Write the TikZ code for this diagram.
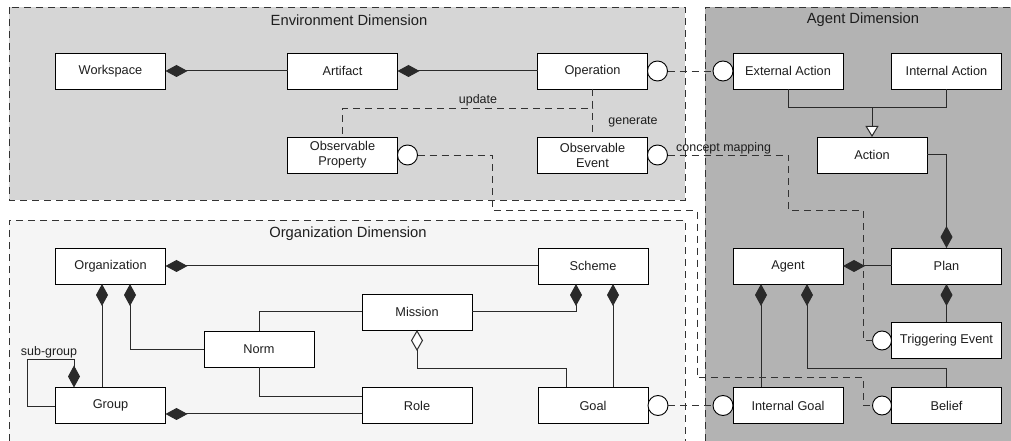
\documentclass[tikz,border=0pt]{standalone}
\usepackage{fontspec}
\setmainfont{Liberation Sans}
\usetikzlibrary{arrows.meta,calc}
\definecolor{envbg}{HTML}{D6D6D6}
\definecolor{agtbg}{HTML}{B3B3B3}
\definecolor{orgbg}{HTML}{F5F5F5}
\definecolor{ink}{HTML}{1E1E1E}
\definecolor{wirec}{HTML}{2A2A2A}
\definecolor{dashc}{HTML}{333333}

\begin{document}
\begin{tikzpicture}[x=1bp,y=-1bp,
  box/.style={draw=black,line width=0.9bp,fill=white,minimum width=110bp,minimum height=36bp,
    inner sep=0pt,outer sep=0pt,align=center,text=ink,font=\fontsize{12.8}{15}\selectfont},
  iface/.style={circle,draw=black,line width=0.9bp,fill=white,minimum size=20bp,inner sep=0pt,outer sep=0pt},
  wire/.style={draw=wirec,line width=1bp},
  comp/.style={wire,{Diamond[length=22bp,width=12bp]}-},
  compend/.style={wire,-{Diamond[length=22bp,width=12bp]}},
  agg/.style={wire,{Diamond[open,length=21bp,width=12bp,fill=white]}-},
  gen/.style={wire,-{Triangle[open,length=11bp,width=13bp,fill=white]}},
  dep/.style={draw=dashc,line width=0.9bp,dash pattern=on 7bp off 5bp},
  frame/.style={draw=dashc,line width=0.9bp,dash pattern=on 7bp off 5bp},
  lbl/.style={text=ink,font=\fontsize{12.5}{14}\selectfont,inner sep=0pt},
  title/.style={text=ink,font=\fontsize{14.8}{17}\selectfont,inner sep=0pt}
]
\useasboundingbox (0,0) rectangle (1011,441);

% ---- dimension areas ----
\fill[envbg] (9,7) rectangle (685,200);
\draw[frame] (9,7) rectangle (685,200);
\fill[orgbg] (9,220) rectangle (685,441);
\draw[frame] (9,441) -- (9,220) -- (685,220) -- (685,441);
\fill[agtbg] (705,7) rectangle (1011,441);
\draw[frame] (705,441) -- (705,7) -- (1011,7);

\node[title] (tenv) at (349,20) {Environment Dimension};
\node[title] (torg) at (348,234) {Organization Dimension};
\node[title] (tagt) at (863,20) {Agent Dimension};

% ---- environment ----
\node[box] (ws)   at (110.5,71) {Workspace};
\node[box] (art)  at (342.5,71) {Artifact};
\node[box] (op)   at (592.5,71) {Operation};
\node[box] (obsP) at (342.5,155) {Observable\\Property};
\node[box] (obsE) at (592.5,155) {Observable\\Event};

% ---- agent ----
\node[box] (extA)   at (788,71)    {External Action};
\node[box] (intA)   at (946.5,71)  {Internal Action};
\node[box] (action) at (872,155)   {Action};
\node[box] (agent)  at (788,266)   {Agent};
\node[box] (plan)   at (946.5,266) {Plan};
\node[box] (trig)   at (946.5,340.5) {Triggering Event};
\node[box] (intG)   at (788,405.5) {Internal Goal};
\node[box] (belief) at (946.5,405.5) {Belief};

% ---- organization ----
\node[box] (org)     at (110.5,266)   {Organization};
\node[box] (grp)     at (110.5,405.5) {Group};
\node[box] (norm)    at (259,349.5)   {Norm};
\node[box] (mission) at (417,312)     {Mission};
\node[box] (scheme)  at (593,266)     {Scheme};
\node[box] (role)    at (417,405.5)   {Role};
\node[box] (goal)    at (593,405.5)   {Goal};

% ---- interface circles ----
\node[iface,anchor=west] (cOp)   at (op.east) {};
\node[iface,anchor=west] (cObsP) at (obsP.east) {};
\node[iface,anchor=west] (cObsE) at (obsE.east) {};
\node[iface,anchor=west] (cGoal) at (goal.east) {};
\node[iface,anchor=east] (cExt)  at (extA.west) {};
\node[iface,anchor=east] (cIntG) at (intG.west) {};
\node[iface,anchor=east,minimum size=19bp] (cTrig) at (trig.west) {};
\node[iface,anchor=east,minimum size=19bp] (cBel)  at (belief.west) {};

% ---- environment relations ----
\draw[comp] (ws.east) -- (art.west);
\draw[comp] (art.east) -- (op.west);
\draw[dep] (op.south) -- ++(0,19) -| (obsP.north);
\draw[dep] (op.south) -- (obsE.north);
\node[lbl] (lupd) at (478,100) {update};
\node[lbl] (lgen) at (633,122) {generate};

% ---- agent relations ----
\draw[wire] (extA.south) -- ++(0,19) -| (intA.south);
\draw[gen] ([yshift=29bp]action.north) -- (action.north);
\draw[compend] (action.east) -| (plan.north);
\draw[comp] (agent.east) -- (plan.west);
\draw[comp] (plan.south) -- (trig.north);
\draw[comp] ([xshift=-27bp]agent.south) -- ([xshift=-27bp]intG.north);
\draw[comp] ([xshift=19bp]agent.south) |- ([yshift=19bp]belief.north) -- (belief.north);

% ---- organization relations ----
\draw[comp] (org.east) -- (scheme.west);
\draw[comp] ([xshift=-8.5bp]org.south) -- ([xshift=-8.5bp]grp.north);
\draw[comp] ([xshift=19.5bp]org.south) |- (norm.west);
\draw[comp] ([xshift=-36.5bp]grp.north) -- ++(0,-28) -- ++(-46,0) |- ([yshift=-1.5bp]grp.west);
\node[lbl] (lsub) at (49,352) {sub-group};
\draw[wire] (norm.north) |- (mission.west);
\draw[wire] (norm.south) |- ([yshift=8.5bp]role.west);
\draw[comp] ([yshift=-8.5bp]grp.east) -- ([yshift=-8.5bp]role.west);
\draw[compend] (mission.east) -| ([xshift=-17bp]scheme.south);
\draw[comp] ([xshift=20bp]scheme.south) -- ([xshift=20bp]goal.north);
\draw[agg] (mission.south) |- ([xshift=-27bp,yshift=19bp]goal.north) -- ([xshift=-27bp]goal.north);

% ---- cross-dimension mappings ----
\draw[dep] (cOp.east) -- (cExt.west);
\draw[dep] (cGoal.east) -- (cIntG.west);
\draw[dep] (cObsE.east) -| ++(120.5,55.5) -| ([xshift=-9bp]cTrig.west) -- (cTrig.west);
\node[lbl,anchor=west] (lmap) at (676,148) {concept mapping};
\draw[dep] (cObsP.east) -| ++(74.5,55.5) -| ++(205,167) -| ([xshift=-9bp]cBel.west) -- (cBel.west);
\end{tikzpicture}
\end{document}
